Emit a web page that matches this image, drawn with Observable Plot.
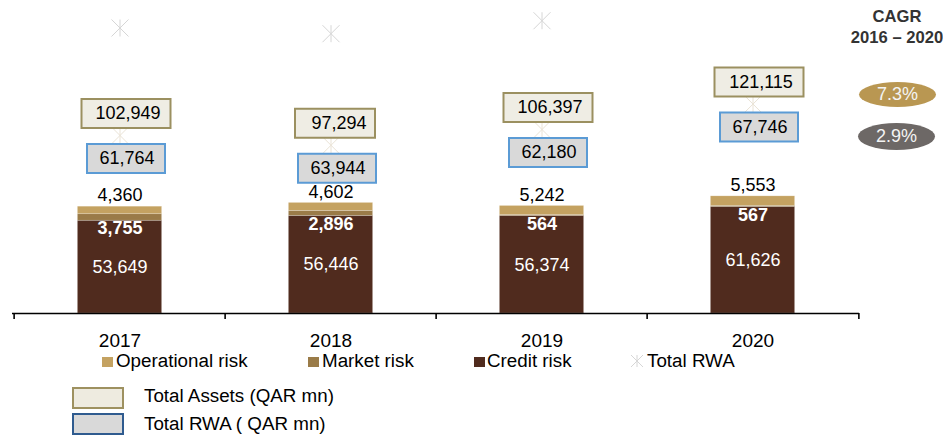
<!DOCTYPE html>
<html>
<head>
<meta charset="utf-8">
<script src="https://cdn.jsdelivr.net/npm/d3@7"></script>
<script src="https://cdn.jsdelivr.net/npm/@observablehq/plot@0.6"></script>
<style>
  body { margin: 0; background: #fff; font-family: "Liberation Sans", Arial, sans-serif; }
  #wrap { position: relative; width: 943px; height: 435px; overflow: hidden; background: #fff; }
  #chart { position: absolute; left: 0; top: 0; }
  .abs { position: absolute; white-space: nowrap; }
  .lg { font-size: 18.8px; color: #000; line-height: 20px; }
  .sq { position: absolute; width: 11px; height: 10px; }
  .bx { position: absolute; width: 48px; height: 18px; border: 2px solid; }
  .cagr { font-weight: bold; font-size: 16.6px; color: #333; text-align: center; width: 100px; line-height: 21px; }
  .ell { position: absolute; border-radius: 50%; color: #f4f4f4; font-size: 18px; display: flex; align-items: center; justify-content: center; }
</style>
</head>
<body>
<div id="wrap"><div id="chart"></div></div>
<script>
// ---- data ----
const years = ["2017", "2018", "2019", "2020"];
const creditRisk = [53649, 56446, 56374, 61626];
const marketRisk = [3755, 2896, 564, 567];
const operationalRisk = [4360, 4602, 5242, 5553];
const totalRwa = [61764, 63944, 62180, 67746];
const totalAssets = [102949, 97294, 106397, 121115];
const totalRwaMarker = [165100, 161800, 169300, null];
const seriesNames = ["Credit risk", "Market risk", "Operational risk"];
const seriesColors = ["#502B1E", "#9A7B48", "#C4A261"];
const legendRow1 = ["Operational risk", "Market risk", "Credit risk", "Total RWA"];
const legendRow2 = ["Total Assets (QAR mn)", "Total RWA ( QAR mn)"];
const cagrTitle = ["CAGR", "2016 – 2020"];
const cagrValues = ["7.3%", "2.9%"];

// ---- layout ----
const W = 943, H = 350, ML = 12, MR = 84, MT = 0, MB = 37;
const yMax = 181000;
const step = (W - ML - MR) / years.length;
const barW = 85;
const inset = (step - barW) / 2;
const fmt = d3.format(",");
const idx = years.map((_, i) => i);

const rows = years.flatMap((y, i) => [
  {year: y, type: seriesNames[0], value: creditRisk[i]},
  {year: y, type: seriesNames[1], value: marketRisk[i]},
  {year: y, type: seriesNames[2], value: operationalRisk[i]}
]);

const rectSym = (w, h) => ({draw(ctx) { ctx.rect(-w / 2, -h / 2, w, h); }});
const starSym = (r) => ({draw(ctx) {
  ctx.moveTo(0, -r); ctx.lineTo(0, r);
  ctx.moveTo(-r, -r); ctx.lineTo(r, r);
  ctx.moveTo(-r, r); ctx.lineTo(r, -r);
}});

const plot = Plot.plot({
  width: W, height: H,
  marginLeft: ML, marginRight: MR, marginTop: MT, marginBottom: MB,
  style: {fontFamily: "'Liberation Sans', Arial, sans-serif", fontSize: "19px", color: "#000", background: "#fff"},
  x: {domain: years, padding: 0, tickSize: 0, tickPadding: 20, label: null},
  y: {domain: [0, yMax], axis: null},
  color: {domain: seriesNames, range: seriesColors},
  marks: [
    Plot.barY(rows, {x: "year", y: "value", fill: "type", insetLeft: inset, insetRight: inset,
      stroke: "#ffffff", strokeOpacity: 0.35, strokeWidth: 0.6}),
    Plot.ruleY([0], {stroke: "#000", strokeWidth: 1.6}),
    // category boundary ticks
    Plot.ruleX(years, {x: d => d, dx: -step / 2, y1: 0, y2: -yMax * 6 / (H - MB - MT), stroke: "#000", strokeWidth: 1.6}),
    Plot.ruleX([years[years.length - 1]], {x: d => d, dx: step / 2, y1: 0, y2: -yMax * 6 / (H - MB - MT), stroke: "#000", strokeWidth: 1.6}),
    // total assets markers (faint)
    Plot.dot(idx, {x: i => years[i], y: i => totalAssets[i], symbol: starSym(8.5), stroke: "#EAE3D6", strokeWidth: 1}),
    // total RWA markers (faint grey, top)
    Plot.dot(idx.filter(i => totalRwaMarker[i] != null), {x: i => years[i], y: i => totalRwaMarker[i], symbol: starSym(8.5), stroke: "#D6D6D6", strokeWidth: 1}),
    // total assets boxes
    Plot.dot(idx.filter(i => fmt(totalAssets[i]).length > 6), {x: i => years[i], y: i => totalAssets[i], dx: 6, dy: -22,
      symbol: rectSym(89, 29), fill: "#EFEDE4", stroke: "#9B9060", strokeWidth: 2}),
    Plot.dot(idx.filter(i => fmt(totalAssets[i]).length <= 6), {x: i => years[i], y: i => totalAssets[i], dx: 4, dy: -22,
      symbol: rectSym(80, 29), fill: "#EFEDE4", stroke: "#9B9060", strokeWidth: 2}),
    Plot.text(idx, {x: i => years[i], y: i => totalAssets[i], text: i => fmt(totalAssets[i]), dx: 8, dy: -22, fill: "#000", fontSize: 18}),
    // total RWA boxes
    Plot.dot(idx, {x: i => years[i], y: i => totalAssets[i], dx: 6, dy: 23,
      symbol: rectSym(78, 29), fill: "#D9D9D9", stroke: "#5B9BD5", strokeWidth: 2}),
    Plot.text(idx, {x: i => years[i], y: i => totalAssets[i], text: i => fmt(totalRwa[i]), dx: 7, dy: 23, fill: "#000", fontSize: 18}),
    // segment labels
    Plot.text(idx, {x: i => years[i], y: i => totalRwa[i], text: i => fmt(operationalRisk[i]), dy: -11, fill: "#000", fontSize: 18}),
    Plot.text(idx, {x: i => years[i], y: i => creditRisk[i], text: i => fmt(marketRisk[i]), dy: 8, fill: "#fff", fontWeight: "bold", fontSize: 18}),
    Plot.text(idx, {x: i => years[i], y: i => creditRisk[i] / 2, text: i => fmt(creditRisk[i]), fill: "#fff", fontSize: 18})
  ]
});
document.getElementById("chart").appendChild(plot);

// ---- legends / annotations (HTML) ----
const wrap = document.getElementById("wrap");
function add(html) { wrap.insertAdjacentHTML("beforeend", html); }

// row 1 legend
const r1 = [
  {sq: seriesColors[2], sx: 102, tx: 116, label: legendRow1[0]},
  {sq: seriesColors[1], sx: 308, tx: 322, label: legendRow1[1]},
  {sq: seriesColors[0], sx: 474, tx: 487, label: legendRow1[2]}
];
r1.forEach(d => {
  add(`<div class="sq" style="left:${d.sx}px;top:357px;background:${d.sq}"></div>`);
  add(`<div class="abs lg" style="left:${d.tx}px;top:351px">${d.label}</div>`);
});
add(`<svg class="abs" style="left:630px;top:354px" width="14" height="14" viewBox="-7 -7 14 14"><path d="M0,-6V6M-6,-6L6,6M-6,6L6,-6" stroke="#D6D6D6" stroke-width="1" fill="none"/></svg>`);
add(`<div class="abs lg" style="left:647px;top:351px">${legendRow1[3]}</div>`);

// row 2 legend
add(`<div class="bx" style="left:72px;top:387px;background:#EEEBE0;border-color:#9E9160"></div>`);
add(`<div class="abs lg" style="left:144px;top:386px">${legendRow2[0]}</div>`);
add(`<div class="bx" style="left:72px;top:413px;background:#D9D9D9;border-color:#2F5B8F"></div>`);
add(`<div class="abs lg" style="left:144px;top:414px">${legendRow2[1]}</div>`);

// CAGR
add(`<div class="abs cagr" style="left:847px;top:6px">${cagrTitle[0]}<br>${cagrTitle[1]}</div>`);
add(`<div class="ell" style="left:859px;top:82px;width:77px;height:25px;background:#B99752">${cagrValues[0]}</div>`);
add(`<div class="ell" style="left:858px;top:123px;width:77px;height:27px;background:#6D6866">${cagrValues[1]}</div>`);
</script>
</body>
</html>
